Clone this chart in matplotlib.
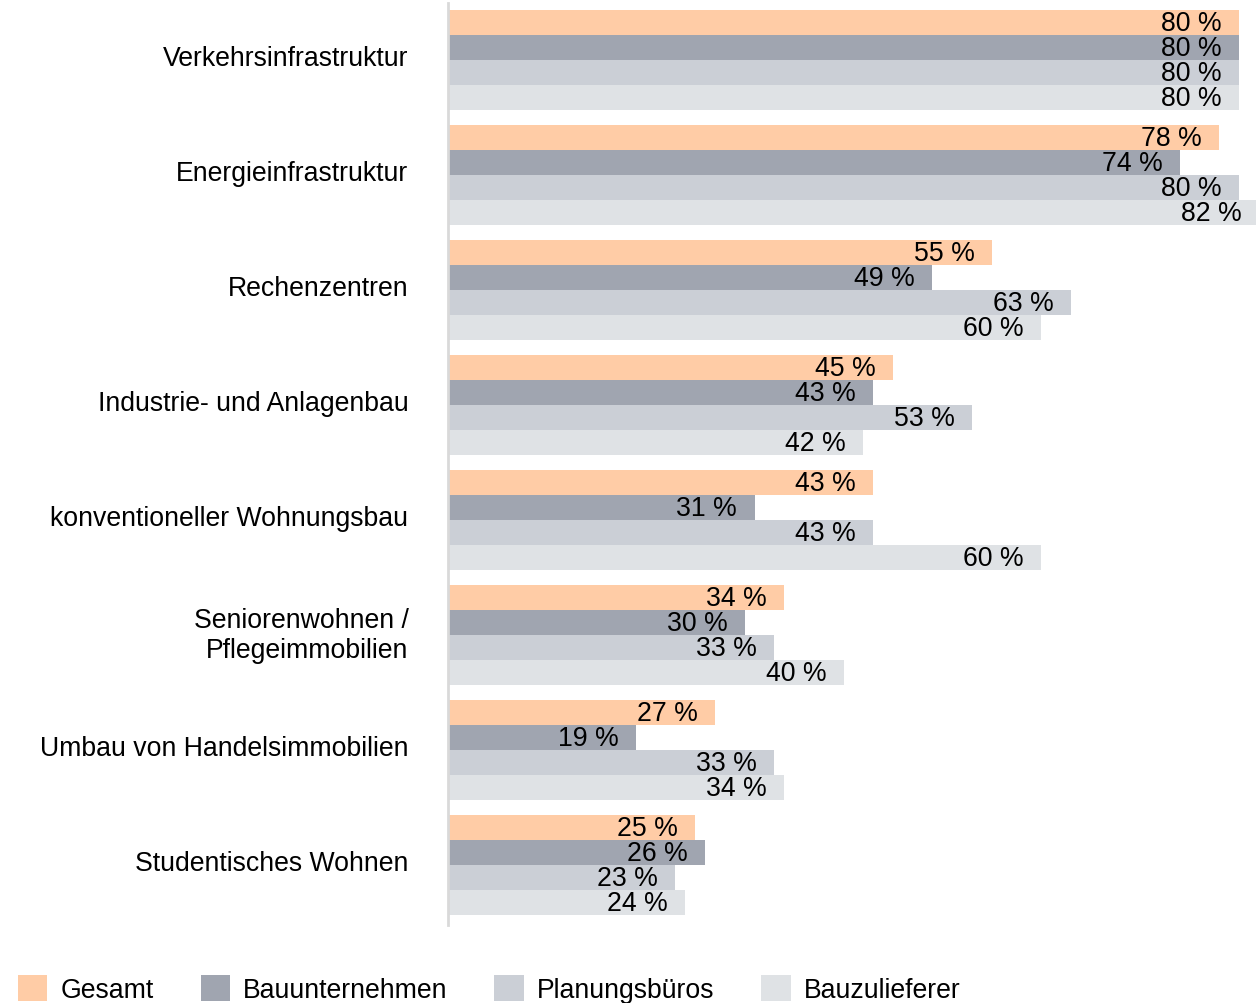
import matplotlib.pyplot as plt
import matplotlib.transforms as mtransforms
import numpy as np

plt.rcParams['font.family'] = ['Liberation Sans', 'DejaVu Sans']

# Daten
kategorien = ['Verkehrsinfrastruktur', 'Energieinfrastruktur', 'Rechenzentren',
              'Industrie- und Anlagenbau', 'konventioneller Wohnungsbau',
              'Seniorenwohnen /\nPflegeimmobilien', 'Umbau von Handelsimmobilien',
              'Studentisches Wohnen']
gesamt = [80, 78, 55, 45, 43, 34, 27, 25]
bauunternehmen = [80, 74, 49, 43, 31, 30, 19, 26]
planungsbueros = [80, 80, 63, 53, 43, 33, 33, 23]
bauzulieferer = [80, 82, 60, 42, 60, 40, 34, 24]

serien = ['Gesamt', 'Bauunternehmen', 'Planungsbüros', 'Bauzulieferer']
farben = ['#FFCCA6', '#A0A5B0', '#CBCFD6', '#DFE2E5']

fs = 19.2

fig = plt.figure(figsize=(12.56, 10.04), dpi=100)
ax = fig.add_axes([448 / 1256, 1 - 926 / 1004, 1 - 448 / 1256, (926 - 4) / 1004])

y = np.arange(len(kategorien))
h = 25 / 115
offsets = [-1.5 * h, -0.5 * h, 0.5 * h, 1.5 * h]

for werte, name, farbe, off in zip([gesamt, bauunternehmen, planungsbueros, bauzulieferer],
                                   serien, farben, offsets):
    bars = ax.barh(y + off, werte, height=h, color=farbe, label=name, clip_on=False)
    for b, v in zip(bars, werte):
        ax.annotate(f'{v} %', xy=(v, b.get_y() + h / 2), xytext=(-12.5, -0.5),
                    textcoords='offset points', ha='right', va='center',
                    fontsize=fs, color='black', annotation_clip=False)

ax.set_xlim(0, 80 * 808 / 791)
ax.set_ylim((926 - 61) / 115, (4 - 61) / 115)
ax.set_yticks(y)
ax.set_yticklabels(kategorien, fontsize=fs)
ax.tick_params(axis='y', length=0, pad=28.5)
# Beschriftungen etwas nach oben
verschiebung = mtransforms.ScaledTranslation(0, 0.045, fig.dpi_scale_trans)
for lab in ax.get_yticklabels():
    lab.set_transform(lab.get_transform() + verschiebung)
ax.set_xticks([])
for s in ['top', 'right', 'bottom']:
    ax.spines[s].set_visible(False)
ax.spines['left'].set_color('#D9D9D9')
ax.spines['left'].set_linewidth(2)

fig.legend(loc='center left', bbox_to_anchor=(18 / 1256, 14 / 1004), ncol=4,
           frameon=False, fontsize=fs, handlelength=1.1, handleheight=1.1,
           handletextpad=0.5, columnspacing=1.75, borderpad=0, borderaxespad=0)

fig.savefig('out.png', dpi=100)
